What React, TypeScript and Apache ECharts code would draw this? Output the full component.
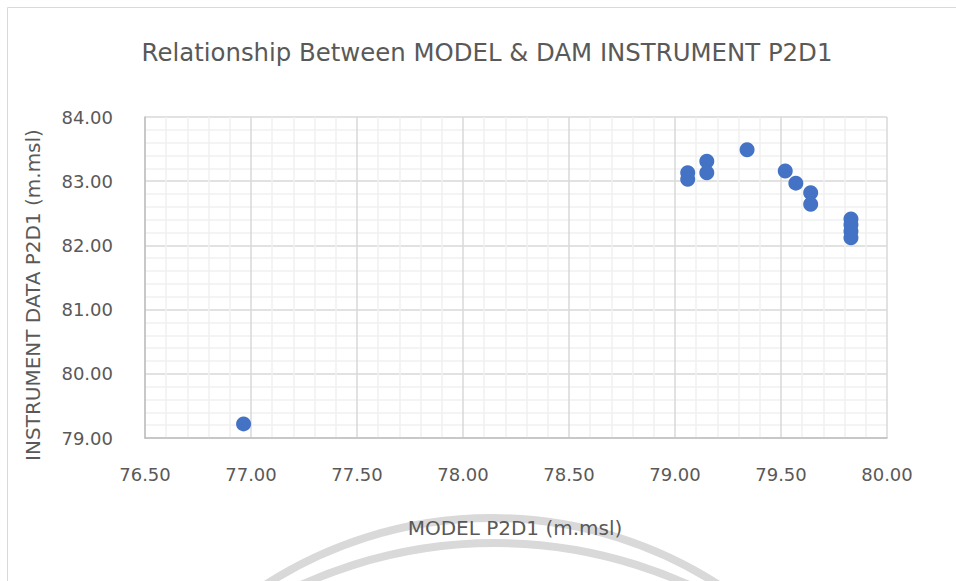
import React, { useEffect, useRef } from "react";
import * as echarts from "echarts";

const modelP2D1 = [76.965, 79.06, 79.06, 79.15, 79.15, 79.34, 79.52, 79.57, 79.64, 79.64, 79.83, 79.83, 79.83, 79.83];
const instrumentP2D1 = [79.22, 83.13, 83.03, 83.31, 83.13, 83.49, 83.16, 82.97, 82.82, 82.64, 82.41, 82.32, 82.22, 82.12];

const chartTitle = "Relationship Between MODEL & DAM INSTRUMENT P2D1";
const xTitle = "MODEL P2D1 (m.msl)";
const yTitle = "INSTRUMENT DATA P2D1 (m.msl)";

const FONT = "DejaVu Sans";
const TEXT = "#595959";

export default function App() {
  const ref = useRef<HTMLDivElement>(null);
  useEffect(() => {
    document.body.style.margin = "0";
    const chart = echarts.init(ref.current!, null, { renderer: "svg" });
    const points = modelP2D1.map((x, i) => [x, instrumentP2D1[i]]);
    chart.setOption({
      animation: false,
      backgroundColor: "#ffffff",
      textStyle: { fontFamily: FONT },
      grid: { left: 145, top: 117, width: 742, height: 321, containLabel: false },
      xAxis: {
        type: "value",
        min: 76.5,
        max: 80,
        interval: 0.5,
        splitNumber: 7,
        axisLine: { show: true, lineStyle: { color: "#bfbfbf", width: 1.5 } },
        axisTick: { show: false },
        minorTick: { show: false, splitNumber: 5 },
        splitLine: { show: true, lineStyle: { color: "#d9d9d9", width: 1.5 } },
        minorSplitLine: { show: true, lineStyle: { color: "#f0f0f0", width: 1.5 } },
        axisLabel: {
          color: TEXT,
          fontSize: 18,
          fontFamily: FONT,
          margin: 27,
          formatter: (v: number) => v.toFixed(2),
        },
      },
      yAxis: {
        type: "value",
        min: 79,
        max: 84,
        interval: 1,
        axisLine: { show: true, lineStyle: { color: "#bfbfbf", width: 1.5 } },
        axisTick: { show: false },
        minorTick: { show: false, splitNumber: 5 },
        splitLine: { show: true, lineStyle: { color: "#d9d9d9", width: 1.5 } },
        minorSplitLine: { show: true, lineStyle: { color: "#f0f0f0", width: 1.5 } },
        axisLabel: {
          color: TEXT,
          fontSize: 18,
          fontFamily: FONT,
          margin: 32,
          formatter: (v: number) => v.toFixed(2),
        },
      },
      series: [
        {
          type: "scatter",
          data: points,
          symbol: "circle",
          symbolSize: 15,
          itemStyle: { color: "#4472C4", opacity: 1 },
          z: 5,
        },
      ],
      graphic: [
        {
          type: "rect",
          shape: { x: 7.5, y: 7.5, width: 1200, height: 1200 },
          style: { fill: "none", stroke: "#d9d9d9", lineWidth: 1 },
          silent: true,
          z: 0,
        },
        {
          type: "arc",
          shape: { cx: 492, cy: 936, r: 418, startAngle: Math.PI * 1.1, endAngle: Math.PI * 1.9, clockwise: true },
          style: { fill: "none", stroke: "#d9d9d9", lineWidth: 8 },
          silent: true,
          z: 0,
        },
        {
          type: "arc",
          shape: { cx: 495, cy: 1012, r: 469, startAngle: Math.PI * 1.1, endAngle: Math.PI * 1.9, clockwise: true },
          style: { fill: "none", stroke: "#d9d9d9", lineWidth: 8 },
          silent: true,
          z: 0,
        },
        {
          type: "text",
          x: 487,
          y: 52,
          style: {
            text: chartTitle,
            fill: TEXT,
            font: `24.4px '${FONT}'`,
            align: "center",
            verticalAlign: "middle",
          },
          z: 10,
        },
        {
          type: "text",
          x: 515,
          y: 528,
          style: {
            text: xTitle,
            fill: TEXT,
            font: `20px '${FONT}'`,
            align: "center",
            verticalAlign: "middle",
          },
          z: 10,
        },
        {
          type: "text",
          x: 33,
          y: 295,
          rotation: Math.PI / 2,
          style: {
            text: yTitle,
            fill: TEXT,
            font: `20px '${FONT}'`,
            align: "center",
            verticalAlign: "middle",
          },
          z: 10,
        },
      ],
    });
    return () => chart.dispose();
  }, []);
  return <div ref={ref} style={{ width: 956, height: 581 }} />;
}
